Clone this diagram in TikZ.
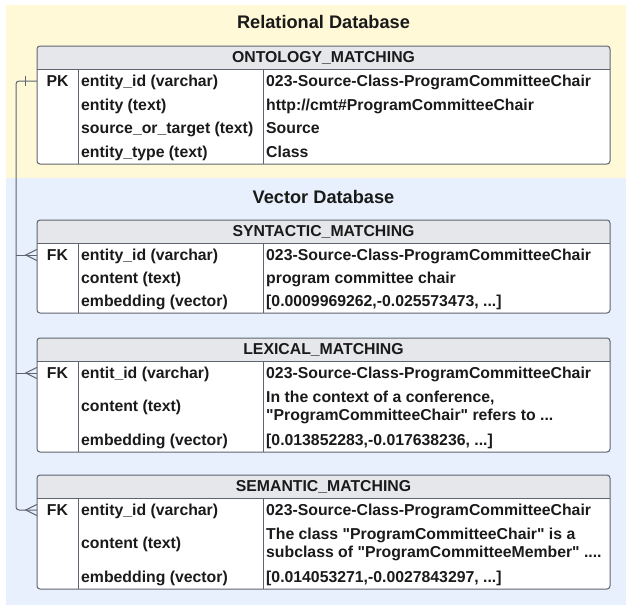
\documentclass[tikz,border=0pt]{standalone}
\usepackage{fontspec}
\setmainfont{Liberation Sans}[Ligatures=TeXOff]
\usepackage{xcolor}
\usetikzlibrary{%
	positioning,% wg. " of "
	calc
}
\definecolor{relbg}{RGB}{255,249,216}
\definecolor{vecbg}{RGB}{232,240,253}
\definecolor{headgray}{RGB}{229,231,234}
\definecolor{framegray}{RGB}{95,101,112}
\definecolor{inkblack}{RGB}{26,26,26}
\tikzstyle{frame} = [draw = framegray, line width = 1pt, rounded corners = 3pt]
\tikzstyle{divider} = [draw = framegray, line width = 1pt]
\tikzstyle{dbtitle} = [font = \fontsize{18.2}{22}\selectfont\bfseries, text = inkblack]
\tikzstyle{headtext} = [font = \fontsize{15.8}{18.5}\selectfont\bfseries, text = inkblack]
\tikzstyle{keycell} = [headtext, minimum width = 41pt, minimum height = 22pt, inner sep = 0pt]
\tikzstyle{cell} = [headtext, anchor = west, align = left, inner sep = 0pt, text height = 11.3pt, text depth = 0pt]
\tikzstyle{conn} = [draw = framegray, line width = 1pt]

\begin{document}
\begin{tikzpicture}[x=1pt, y=-1pt]
	
	% First we draw the two database areas
	\useasboundingbox (0,0) rectangle (626,605);
	\fill[relbg] (6,5) rectangle (626,178);
	\fill[vecbg] (6,178) rectangle (626,605);
	\node[dbtitle] (reltitle) at (323.5,22) {Relational Database};
	\node[dbtitle] (vectitle) at (323.5,197) {Vector Database};
	
	% Then the tables: frame, header, columns and key cell
	\foreach \name/\top/\hbot/\bot/\key/\title in {
		om/46/69/164/PK/ONTOLOGY\_MATCHING,
		syn/220/243/313/FK/SYNTACTIC\_MATCHING,
		lex/338/361/452/FK/LEXICAL\_MATCHING,
		sem/475/498/589/FK/SEMANTIC\_MATCHING
	}{
		\fill[white, rounded corners = 3pt] (37,\top) rectangle (610,\bot);
		\begin{scope}
			\clip[rounded corners = 3pt] (37,\top) rectangle (610,\bot);
			\fill[headgray] (37,\top) rectangle (610,\hbot);
		\end{scope}
		\path[divider] (37,\hbot) -- (610,\hbot);
		\path[divider] (78,\hbot) -- (78,\bot);
		\path[divider] (263,\hbot) -- (263,\bot);
		\path[frame] (37,\top) rectangle (610,\bot);
		\node[headtext] (\name-head) at (323.5,{(\top+\hbot)/2}) {\title};
		\node[keycell] (\name-key) at (57.5,{\hbot+12}) {\key};
	}
	
	% Rows of the relational table
	\foreach \i/\y/\field/\value in {
		1/81/entity\_id (varchar)/023-Source-Class-ProgramCommitteeChair,
		2/104.5/entity (text)/{http://cmt\#ProgramCommitteeChair},
		3/128/source\_or\_target (text)/Source,
		4/152/entity\_type (text)/Class
	}{
		\node[cell] (om-f\i) at (81,\y) {\field};
		\node[cell] (om-v\i) at (266,\y) {\value};
	}
	
	% Rows of the vector tables (\dy moves two-line values down)
	\foreach \tab/\i/\y/\dy/\field/\value in {
		syn/1/255/0/entity\_id (varchar)/023-Source-Class-ProgramCommitteeChair,
		syn/2/278/0/content (text)/program committee chair,
		syn/3/301/0/embedding (vector)/{[0.0009969262,-0.025573473, ...]},
		lex/1/373/0/entit\_id (varchar)/023-Source-Class-ProgramCommitteeChair,
		lex/2/406/9/content (text)/{In the context of a conference,\\"ProgramCommitteeChair" refers to ...},
		lex/3/440/0/embedding (vector)/{[0.013852283,-0.017638236, ...]},
		sem/1/510/0/entity\_id (varchar)/023-Source-Class-ProgramCommitteeChair,
		sem/2/543/9/content (text)/{The class "ProgramCommitteeChair" is a\\subclass of "ProgramCommitteeMember" ....},
		sem/3/577/0/embedding (vector)/{[0.014053271,-0.0027843297, ...]}
	}{
		\node[cell] (\tab-f\i) at (81,\y) {\field};
		\node[cell] (\tab-v\i) at (266,{\y+\dy}) {\value};
	}
	
	% Connect the primary key with the foreign keys
	\coordinate (bus) at (16,0);
	\path[conn, rounded corners = 3pt] (om-key.west) -| (bus |- sem-key.west) -- (sem-key.west);
	\foreach \tab in {syn,lex}
	\path[conn] (bus |- \tab-key.west) -- (\tab-key.west);
	
	% Draw the one mark and the crow's feet
	\path[conn] ([xshift=-11pt, yshift=-5pt]om-key.west) -- ([xshift=-11pt, yshift=5pt]om-key.west);
	\foreach \tab in {syn,lex,sem}
	\path[conn] ([yshift=5.5pt]\tab-key.west) -- ([xshift=-11pt]\tab-key.west) -- ([yshift=-5.5pt]\tab-key.west);
	
\end{tikzpicture}
\end{document}
